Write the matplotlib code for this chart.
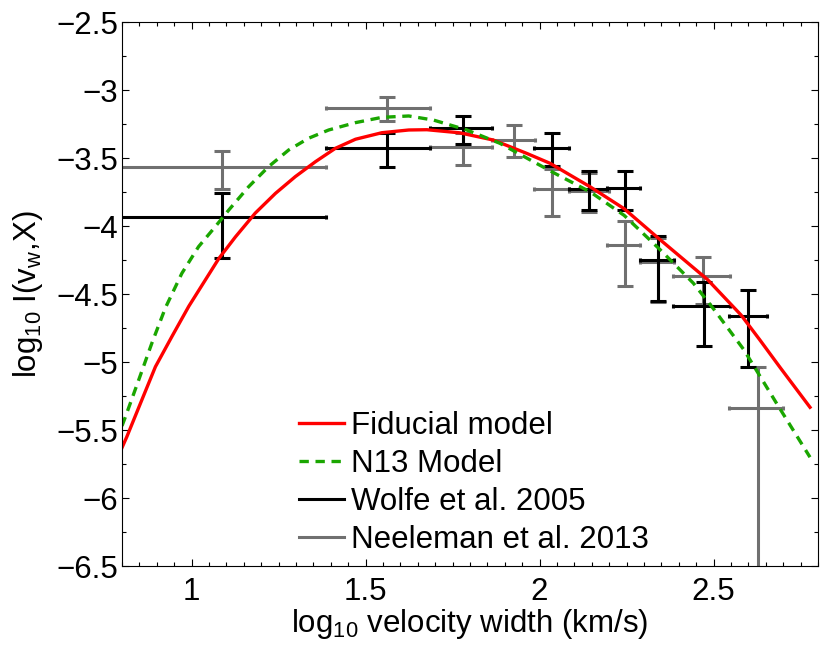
import numpy as np
import matplotlib
matplotlib.use('Agg')
import matplotlib.pyplot as plt
from matplotlib.lines import Line2D
from matplotlib.ticker import MultipleLocator, FuncFormatter

plt.rcParams['font.family'] = ['Liberation Sans', 'DejaVu Sans']
plt.rcParams['mathtext.default'] = 'regular'

# model curves
fid_x = [0.800, 0.814, 0.857, 0.896, 0.944, 0.992, 1.078, 1.126, 1.183, 1.241,
         1.298, 1.356, 1.413, 1.471, 1.547, 1.624, 1.676, 1.771, 1.867, 1.963, 2.030,
         2.146, 2.243, 2.339, 2.483, 2.579, 2.633, 2.691, 2.777]
fid_y = [-5.63, -5.549, -5.279, -5.035, -4.810, -4.590, -4.240, -4.080, -3.905, -3.760,
         -3.637, -3.527, -3.429, -3.362, -3.314, -3.294, -3.292, -3.315, -3.368, -3.466, -3.539,
         -3.713, -3.873, -4.085, -4.395, -4.655, -4.838, -5.040, -5.333]

n13_x = [0.800, 0.810, 0.848, 0.886, 0.925, 0.972, 1.020, 1.068, 1.107, 1.164, 1.221,
         1.279, 1.336, 1.394, 1.471, 1.547, 1.624, 1.695, 1.791, 1.886, 1.982, 2.049,
         2.146, 2.243, 2.347, 2.442, 2.500, 2.587, 2.680, 2.777]
n13_y = [-5.47, -5.402, -5.132, -4.860, -4.600, -4.348, -4.152, -4.005, -3.882, -3.711, -3.564,
         -3.441, -3.355, -3.294, -3.240, -3.201, -3.191, -3.221, -3.294, -3.392, -3.527, -3.620,
         -3.750, -3.922, -4.176, -4.421, -4.610, -4.910, -5.300, -5.700]

# Wolfe et al. 2005
wolfe_x = [1.086, 1.561, 1.781, 2.037, 2.143, 2.245, 2.339, 2.472, 2.600]
wolfe_y = [-3.934, -3.426, -3.279, -3.430, -3.725, -3.718, -4.249, -4.590, -4.664]
wolfe_top = [-3.760, -3.318, -3.191, -3.319, -3.597, -3.597, -4.070, -4.414, -4.468]
wolfe_bot = [-4.233, -3.564, -3.400, -3.560, -3.880, -3.880, -4.549, -4.886, -5.036]
wolfe_xlo = [0.786, 1.386, 1.685, 1.985, 2.085, 2.194, 2.289, 2.383, 2.545]
wolfe_xhi = [1.386, 1.685, 1.863, 2.085, 2.194, 2.289, 2.387, 2.546, 2.653]

# Neeleman et al. 2013
nee_x = [1.086, 1.561, 1.781, 1.927, 2.037, 2.143, 2.245, 2.339, 2.469, 2.628]
nee_y = [-3.566, -3.130, -3.418, -3.364, -3.725, -3.740, -4.143, -4.264, -4.368, -5.338]
nee_top = [-3.449, -3.054, -3.319, -3.260, -3.578, -3.610, -3.963, -4.087, -4.230, -5.036]
nee_bot = [-3.728, -3.228, -3.555, -3.490, -3.930, -3.897, -4.438, -4.561, -4.574, -9.000]
nee_xlo = [0.786, 1.385, 1.685, 1.863, 1.985, 2.085, 2.194, 2.289, 2.383, 2.544]
nee_xhi = [1.386, 1.685, 1.863, 1.988, 2.085, 2.200, 2.289, 2.387, 2.546, 2.698]

red = '#ff0000'
green = '#1aa600'
grey = '#707070'
fs = 22.5


def draw_points(ax, x, y, top, bot, xlo, xhi, col):
    x = np.array(x); y = np.array(y)
    yerr = [y - np.array(bot), np.array(top) - y]
    xerr = [x - np.array(xlo), np.array(xhi) - x]
    ax.errorbar(x, y, xerr=xerr, fmt='none', ecolor=col, elinewidth=2.2,
                capsize=1.6, capthick=2.2)
    ax.errorbar(x, y, yerr=yerr, fmt='none', ecolor=col, elinewidth=2.2,
                capsize=5.8, capthick=2.2)


fig = plt.figure(figsize=(8.3, 6.52), dpi=100)
ax = fig.add_axes([122/830, 1-566/652, 696/830, 544/652])

draw_points(ax, nee_x, nee_y, nee_top, nee_bot, nee_xlo, nee_xhi, grey)
draw_points(ax, wolfe_x, wolfe_y, wolfe_top, wolfe_bot, wolfe_xlo, wolfe_xhi, 'black')

ax.plot(fid_x, fid_y, c=red, lw=2.4, solid_joinstyle='round')
ax.plot(n13_x, n13_y, c=green, lw=2.4, dashes=(2.8, 2.0))

ax.set_xlim([0.8, 2.8])
ax.set_ylim([-6.5, -2.5])
ax.xaxis.set_major_locator(MultipleLocator(0.5))
ax.xaxis.set_minor_locator(MultipleLocator(0.05))
ax.yaxis.set_major_locator(MultipleLocator(0.5))
ax.yaxis.set_minor_locator(MultipleLocator(0.25))
fmt = FuncFormatter(lambda v, p: ('%g' % v).replace('-', '\u2212'))
ax.xaxis.set_major_formatter(fmt)
ax.yaxis.set_major_formatter(fmt)
ax.tick_params(which='both', direction='in', top=True, right=True, width=0.8)
ax.tick_params(which='major', length=5, labelsize=fs)
ax.tick_params(which='minor', length=3)
ax.tick_params(axis='x', pad=8)
ax.tick_params(axis='y', pad=3)
for s in ax.spines.values():
    s.set_linewidth(0.8)

ax.set_xlabel('log$_{10}$ velocity width (km/s)', size=fs, labelpad=0)
ax.set_ylabel('log$_{10}$ I(v$_{w}$,X)', size=fs, labelpad=8)

handles = [Line2D([], [], c=red, lw=2.4),
           Line2D([], [], c=green, lw=2.4, dashes=(2.8, 2.0)),
           Line2D([], [], c='black', lw=2.2),
           Line2D([], [], c=grey, lw=2.2)]
labels = ['Fiducial model', 'N13 Model', 'Wolfe et al. 2005', 'Neeleman et al. 2013']
ax.legend(handles, labels, loc='lower left', bbox_to_anchor=(0.254, 0.02),
          frameon=False, fontsize=fs, handlelength=1.45, handletextpad=0.22,
          labelspacing=0.26, borderpad=0, borderaxespad=0)

fig.savefig('out.png', dpi=100)
